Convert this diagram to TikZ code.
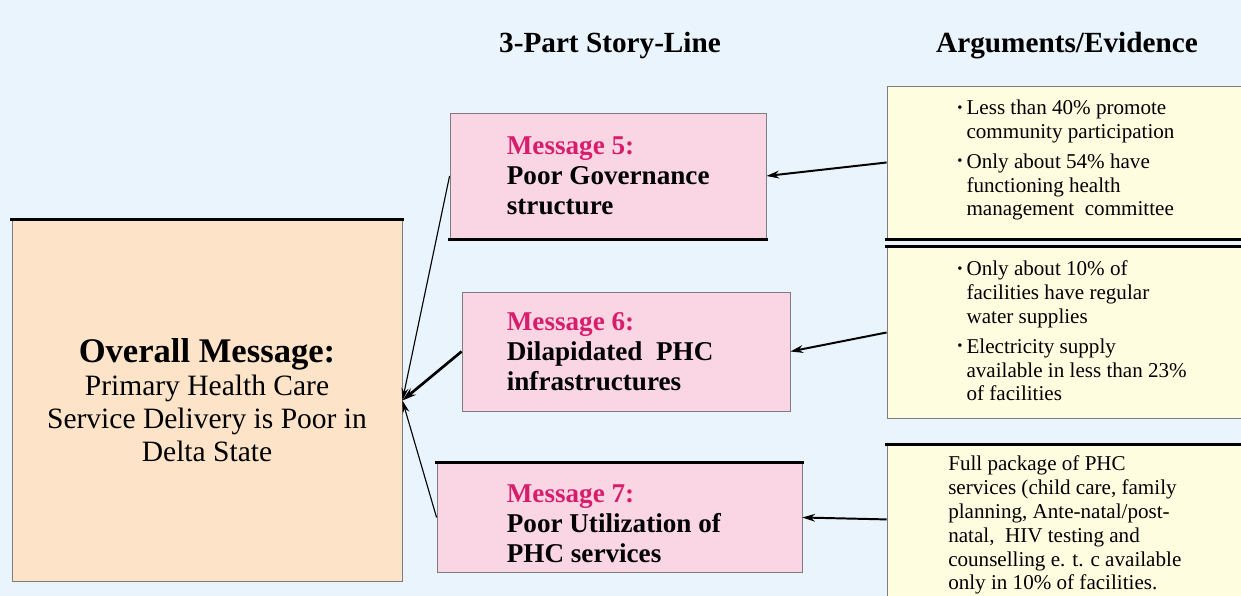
\documentclass[tikz,border=0pt]{standalone}
\usepackage{fontspec}
\setmainfont{Liberation Serif}
\usepackage{xcolor}
\usetikzlibrary{shapes, arrows, arrows.meta, positioning}

\definecolor{bgblue}{RGB}{233,244,252}
\definecolor{peach}{RGB}{253,228,201}
\definecolor{pinkbox}{RGB}{250,214,229}
\definecolor{yellowbox}{RGB}{255,253,224}
\definecolor{msgred}{RGB}{214,30,108}
\definecolor{edgegray}{RGB}{125,125,125}

\newcommand{\bul}{\makebox[6.6pt][l]{\raisebox{1.6pt}{\fontsize{10.5}{10}\selectfont\textbullet}}}
\newcommand{\ind}{\hspace*{6.6pt}}

\begin{document}
\begin{tikzpicture}[
    box/.style={rectangle, draw=edgegray, line width=0.6pt, inner sep=0pt},
    overall/.style={box, fill=peach, minimum width=9.75cm, minimum height=9.025cm, align=center, font=\fontsize{21}{23.5}\selectfont},
    msgbox/.style={box, fill=pinkbox},
    evbox/.style={box, fill=yellowbox, minimum width=9.325cm},
    msgtext/.style={inner sep=0pt, align=left, font=\fontsize{19.3}{21.3}\selectfont\bfseries},
    evtext/.style={inner sep=0pt, align=left, anchor=base west, font=\fontsize{15}{17}\selectfont},
    heading/.style={inner sep=0pt, anchor=base, font=\fontsize{20.8}{24}\selectfont\bfseries},
    thickedge/.style={line width=2.2pt, line cap=rect},
    evarrow/.style={->, >={Stealth[length=9pt, width=5.5pt]}, line width=1.4pt},
    thinarrow/.style={->, >={Stealth[length=9pt, width=5pt]}, line width=0.8pt},
    thickarrow/.style={->, >={Stealth[length=10pt, width=6pt]}, line width=1.9pt}
]

% background
\useasboundingbox[fill=bgblue] (0,0) rectangle (31.025,14.9);

% column headings
\node[heading] (storyhead) at (15.25,13.575) {3-Part Story-Line};
\node[heading] (evhead) at (26.675,13.575) {Arguments/Evidence};

% overall message
\node[overall] (ov) at (5.175,4.8875) {{\fontsize{24.6}{23.5}\selectfont\bfseries Overall Message:}\\Primary Health Care\\Service Delivery is Poor in\\Delta State};

% story-line boxes
\node[msgbox, minimum width=7.9cm, minimum height=3.15cm] (m5) at (15.2,10.5) {};
\node[msgbox, minimum width=8.2cm, minimum height=2.975cm] (m6) at (15.65,6.1125) {};
\node[msgbox, minimum width=9.125cm, minimum height=2.725cm] (m7) at (15.4875,1.9625) {};
\node[msgtext, right=1.425cm of m5.west] (m5txt) {\textcolor{msgred}{Message 5:}\\Poor Governance\\structure};
\node[msgtext, right=1.125cm of m6.west] (m6txt) {\textcolor{msgred}{Message 6:}\\Dilapidated\ \ PHC\\infrastructures};
\node[msgtext, right=1.75cm of m7.west, yshift=-0.16cm] (m7txt) {\textcolor{msgred}{Message 7:}\\Poor Utilization of\\PHC services};

% evidence boxes (base = last line)
\node[evbox, minimum height=3.825cm] (evA) at (26.8375,10.8375) {};
\node[evbox, minimum height=4.275cm] (evB) at (26.8375,6.5875) {};
\node[evbox, minimum height=4.375cm] (evC) at (26.8375,1.5875) {};
\node[evtext] (evAtxt) at (23.925,9.5) {\bul Less than 40\% promote\\\ind community participation\\[4pt]\bul Only about 54\% have\\\ind functioning health\\\ind management\ \ committee};
\node[evtext] (evBtxt) at (23.925,4.875) {\bul Only about 10\% of\\\ind facilities have regular\\\ind water supplies\\[4pt]\bul Electricity supply\\\ind available in less than 23\%\\\ind of facilities};
\node[evtext] (evCtxt) at (23.7,0.15) {Full package of PHC\\services (child care, family\\planning, Ante-natal/post-\\natal,\ \ HIV testing and\\counselling e. t. c available\\only in 10\% of facilities.};

% heavy edges
\draw[thickedge] (ov.north west) -- (ov.north east);
\draw[thickedge] (m5.south west) -- (m5.south east);
\draw[thickedge] (m7.north west) -- (m7.north east);
\draw[thickedge] (evA.south west) -- (evA.south east);
\draw[thickedge] (evB.north west) -- (evB.north east);
\draw[thickedge] (evC.north west) -- (evC.north east);

% arrows
\draw[evarrow] (evA.west) -- (m5.east);
\draw[evarrow] (evB.west) -- (m6.east);
\draw[evarrow] (evC.176) -- (m7.east);
\draw[thinarrow] (m5.west) -- (ov.east);
\draw[thickarrow] (m6.west) -- (ov.east);
\draw[thinarrow] (m7.west) -- (ov.east);

\end{tikzpicture}
\end{document}
